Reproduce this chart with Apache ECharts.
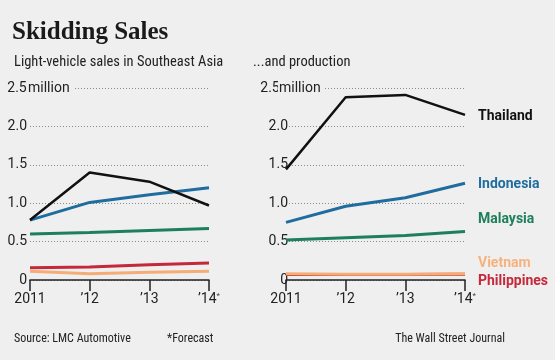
<!DOCTYPE html>
<html><head><meta charset="utf-8">
<script src="https://cdn.jsdelivr.net/npm/echarts@6/dist/echarts.min.js"></script>
<style>html,body{margin:0;padding:0;background:#efefef;}#c{width:555px;height:360px;}</style>
</head><body><div id="c"></div>
<script>
var years = ['2011', '\u201912', '\u201913', '\u201914'];
var yTicks = [0, 0.5, 1.0, 1.5, 2.0, 2.5];
var countries = ['Thailand', 'Indonesia', 'Malaysia', 'Vietnam', 'Philippines'];
var colors = ['#111111', '#1f6c9e', '#1d7f5b', '#f4ad76', '#c5283a'];
var labelColors = ['#111111', '#1f6c9e', '#1d7f5b', '#f6b27e', '#c5283a'];
// Sales (left)
var salesThailand = [0.78, 1.40, 1.28, 0.97];
var salesIndonesia = [0.78, 1.01, 1.11, 1.20];
var salesMalaysia = [0.60, 0.62, 0.645, 0.67];
var salesVietnam = [0.115, 0.08, 0.10, 0.115];
var salesPhilippines = [0.16, 0.17, 0.20, 0.22];
// Production (right)
var prodThailand = [1.44, 2.38, 2.41, 2.15];
var prodIndonesia = [0.75, 0.96, 1.07, 1.26];
var prodMalaysia = [0.52, 0.55, 0.58, 0.63];
var prodVietnam = [0.08, 0.075, 0.075, 0.08];
var prodPhilippines = [0.07, 0.07, 0.07, 0.075];

var sales = [salesThailand, salesIndonesia, salesMalaysia, salesVietnam, salesPhilippines];
var prod = [prodThailand, prodIndonesia, prodMalaysia, prodVietnam, prodPhilippines];
var labelDy = [2, 1, -12, -10, 7];

var font = 'Roboto, "Open Sans", sans-serif';
var narrow = '"Liberation Sans Narrow", "Roboto Condensed", Roboto, sans-serif';

function xAxis(idx) {
  return {
    type: 'category', gridIndex: idx, data: years, boundaryGap: false,
    axisLine: {show: true, lineStyle: {color: '#222', width: 1.5}},
    axisTick: {show: true, length: 11, inside: false, alignWithLabel: true, lineStyle: {color: '#222', width: 1.5}},
    axisLabel: {
      margin: 12, color: '#222', fontSize: 14, fontFamily: font,
      formatter: function (v, i) { return i === 3 ? v + '{s|*}' : v; },
      rich: {s: {fontSize: 8, verticalAlign: 'top', color: '#444', padding: [0, 0, 6, 0]}}
    },
    splitLine: {show: false}
  };
}
function yAxis(idx, margin, w, w25, gapR) {
  return {
    type: 'value', gridIndex: idx, min: 0, max: 2.5, interval: 0.5,
    axisLine: {show: false}, axisTick: {show: false},
    splitLine: {show: true, lineStyle: {color: '#8a8a8a', type: [1, 2], width: 1}},
    axisLabel: {
      align: 'left', margin: margin, color: '#222', fontSize: 14, fontFamily: font,
      formatter: function (v) {
        if (v === 0) return '{n|0}';
        if (v === 2.5) return '{t|2.5}{m|million}';
        return '{n|' + v.toFixed(1) + '}';
      },
      rich: {
        n: {width: w, align: 'right', fontSize: 14, fontFamily: font, color: '#222'},
        t: {width: w25, align: 'right', fontSize: 14, fontFamily: font, color: '#222'},
        m: {fontSize: 14, fontFamily: font, color: '#222', backgroundColor: '#efefef', padding: [0, gapR, 0, 1]}
      }
    }
  };
}

var series = [];
countries.forEach(function (c, i) {
  series.push({
    name: c, type: 'line', xAxisIndex: 0, yAxisIndex: 0, data: sales[i],
    symbol: 'none', lineStyle: {color: colors[i], width: i === 0 ? 2.5 : 3}, z: 10 - i, animation: false
  });
});
countries.forEach(function (c, i) {
  series.push({
    name: c, type: 'line', xAxisIndex: 1, yAxisIndex: 1, data: prod[i],
    symbol: 'none', lineStyle: {color: colors[i], width: i === 0 ? 2.5 : 3}, z: 10 - i, animation: false,
    endLabel: {
      show: true, formatter: '{a}', distance: 0, offset: [13, labelDy[i]],
      color: labelColors[i], fontSize: 14, fontWeight: 'bold', fontFamily: font
    },
    labelLayout: {hideOverlap: false}
  });
});

var chart = echarts.init(document.getElementById('c'), null, {renderer: 'canvas'});
chart.setOption({
  backgroundColor: '#efefef',
  animation: false,
  title: [
    {text: 'Skidding Sales', left: 7, top: 15, textStyle: {fontFamily: '"Liberation Serif", serif', fontWeight: 'bold', fontSize: 25, color: '#1a1a1a'}},
    {text: 'Light-vehicle sales in Southeast Asia', left: 9, top: 50, textStyle: {fontFamily: narrow, fontWeight: 'normal', fontSize: 14.5, color: '#222'}},
    {text: '...and production', left: 248, top: 50, textStyle: {fontFamily: narrow, fontWeight: 'normal', fontSize: 14.5, color: '#222'}},
    {text: 'Source: LMC Automotive', left: 9, top: 328, textStyle: {fontFamily: narrow, fontWeight: 'normal', fontSize: 12, color: '#222'}},
    {text: '*Forecast', left: 162, top: 328, textStyle: {fontFamily: narrow, fontWeight: 'normal', fontSize: 12, color: '#222'}},
    {text: 'The Wall Street Journal', right: 45, top: 328, textStyle: {fontFamily: narrow, fontWeight: 'normal', fontSize: 12, color: '#222'}}
  ],
  grid: [
    {left: 30, top: 88, width: 179, height: 192},
    {left: 286, top: 88, width: 179, height: 192}
  ],
  xAxis: [xAxis(0), xAxis(1)],
  yAxis: [yAxis(0, 23, 20, 20, 4), yAxis(1, 24, 26, 16, 4)],
  series: series
});
</script></body></html>
